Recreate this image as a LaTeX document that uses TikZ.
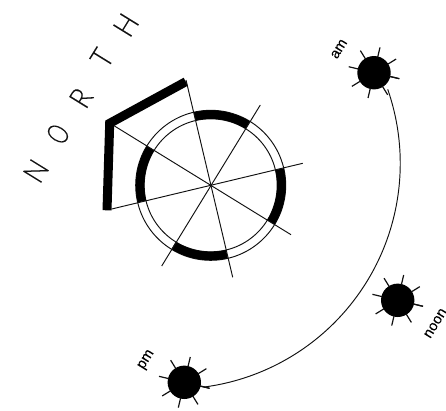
\documentclass[tikz,border=0pt]{standalone}
\usepackage{fontspec}
\setmainfont{Liberation Sans}
\newfontfamily\labelfont[FakeBold=0.05]{Liberation Sans}
\newfontfamily\northfont[FakeBold=0.1]{Lato Light}
\usetikzlibrary{calc}
\definecolor{ink}{HTML}{111111}
\newcommand{\csun}[1]{%
  \fill[black] (#1) circle (16.7);
  \foreach \a in {13.3,58.3,...,373.3}
    \draw[thinline,line width=1.2pt] ($(#1)+(\a:16)$) -- ($(#1)+(\a:26)$);
}
\tikzset{
  thinline/.style={line width=0.95pt,color=ink},
  thickline/.style={line width=9pt,color=black,line join=miter},
  sunlabel/.style={font=\labelfont\fontsize{14.5}{14.5}\selectfont,rotate=58.3,inner sep=0,text=black},
  northlabel/.style={font=\northfont\fontsize{30}{30}\selectfont,rotate=58.3,inner sep=0,text=ink},
}
\begin{document}
\begin{tikzpicture}[x=1pt,y=-1pt]
\useasboundingbox (0,0) rectangle (446,410);
\coordinate (c) at (210.7,185.3);
\coordinate (w1) at (185.8,81.7);
\coordinate (w2) at (109.7,123.3);
\coordinate (w3) at (107,210.3);
\coordinate (am) at (374,72.7);
\coordinate (noon) at (397.7,300.3);
\coordinate (pm) at (184.3,382.3);
\coordinate (p1) at (387.7,89.3);
\draw[thinline] (c) circle (75);
\draw[thinline] (c) circle (66.5);
\foreach \a in {58.3,148.3,238.3,328.3}
  \draw[line width=8.5pt,black] ($(c)+(-\a:70.7)$) arc[start angle=-\a,end angle=-\a-45,radius=70.7];
\draw[thickline] (w1) -- (w2) -- (w3);
\draw[thinline] (186,80) -- (232.7,277.3);
\draw[thinline] (260.3,105) -- (161.7,266);
\draw[thinline] (114,125.7) -- (291,234.7);
\draw[thinline] (302.7,163.3) -- (111.7,209);
\csun{am}
\csun{noon}
\csun{pm}
\draw[thinline] (p1) arc[start angle=-19.2,end angle=82.5,radius=225.5];
\node[sunlabel] (tam) at (339,49) {am};
\node[sunlabel] (tnoon) at (435.5,323.3) {noon};
\node[sunlabel] (tpm) at (146.7,360) {pm};
\node[northlabel] (n1) at (36,171) {\scalebox{.88}[1]{N}};
\node[northlabel] (n2) at (58,134) {\scalebox{.7}[1]{O}};
\node[northlabel] (n3) at (81,98) {\scalebox{.88}[1]{R}};
\node[northlabel] (n4) at (102,58) {\scalebox{.88}[1]{T}};
\node[northlabel] (n5) at (126,25) {\scalebox{.88}[1]{H}};
\end{tikzpicture}
\end{document}
